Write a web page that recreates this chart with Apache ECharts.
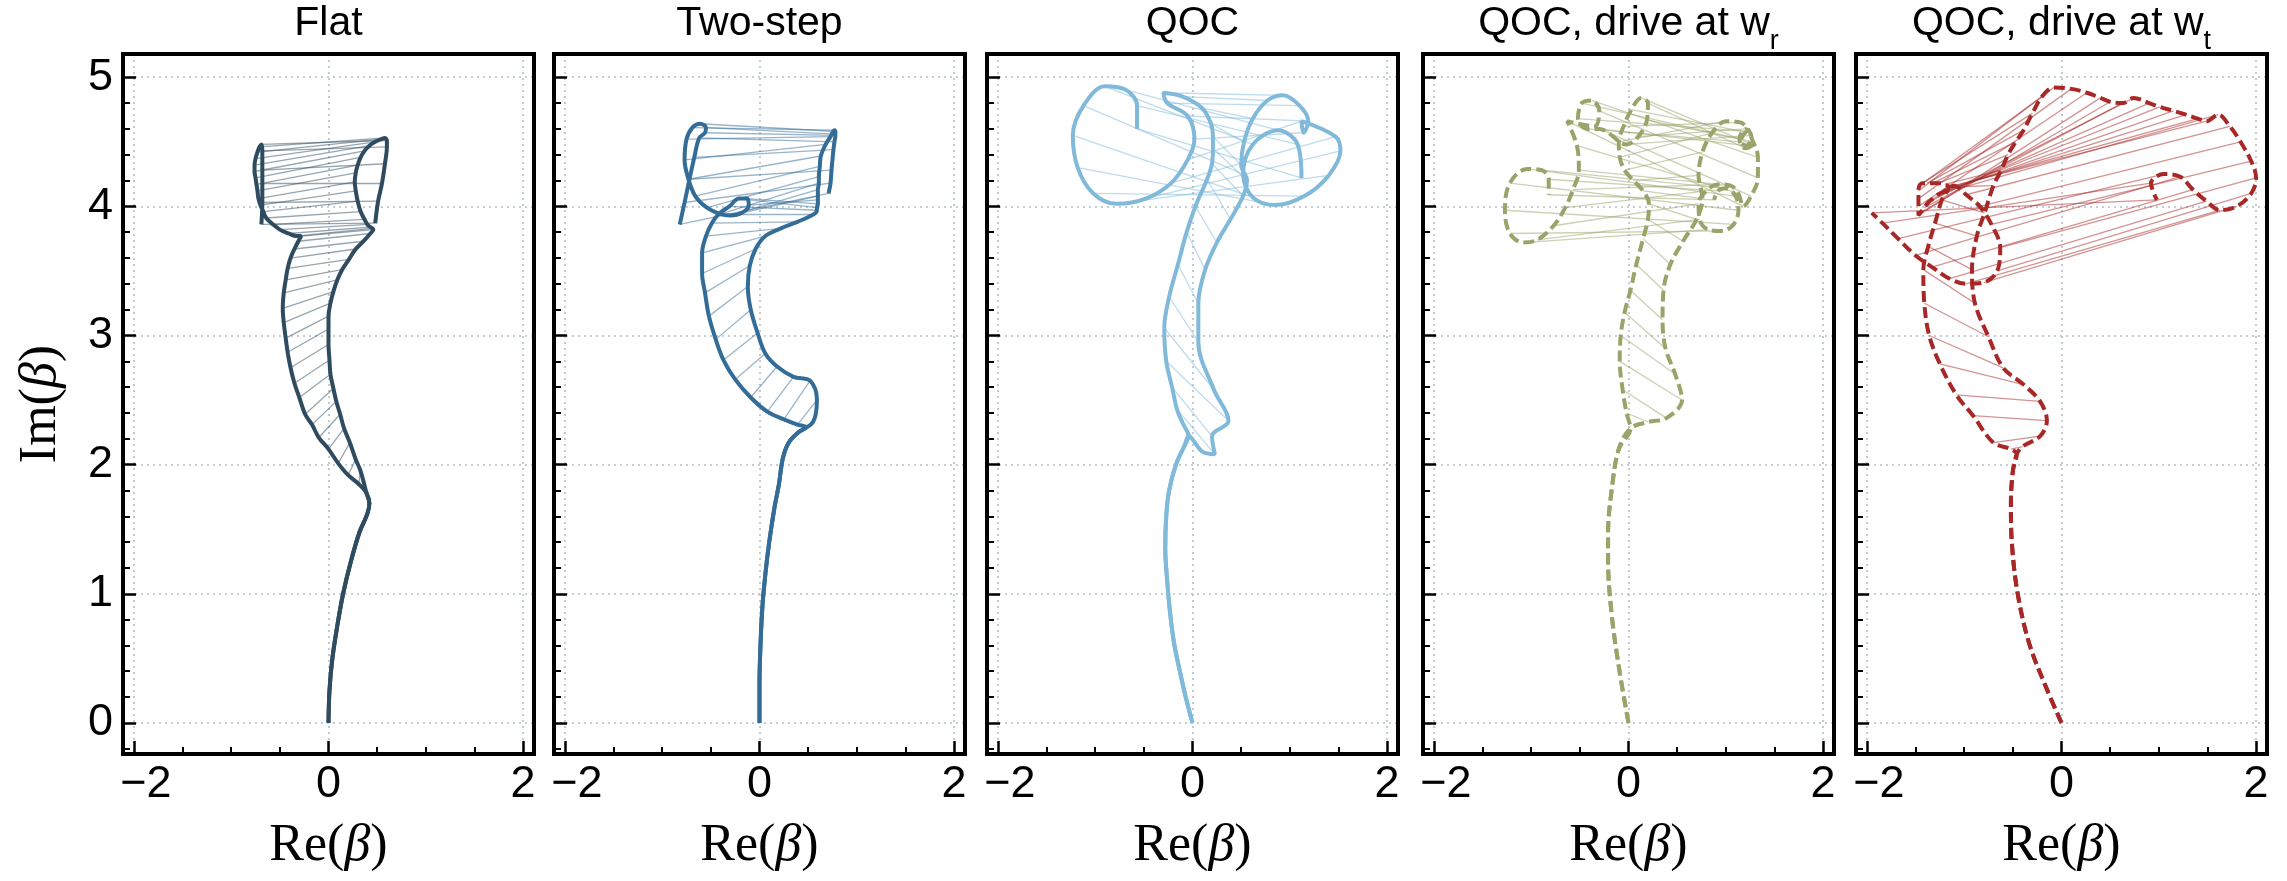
<!DOCTYPE html>
<html><head><meta charset="utf-8">
<script src="https://cdn.jsdelivr.net/npm/echarts@6/dist/echarts.min.js"></script>
<style>html,body{margin:0;padding:0;background:#fff}#c{width:2287px;height:881px}</style>
</head><body><div id="c"></div>
<script>
// ---- tick values / labels ----
const xTicks = [-2, 0, 2];
const xTickLabels = ['{m|\u22122}', '0', '2'];
const xMinorTicks = [-1.5, -1, -0.5, 0.5, 1, 1.5];
const yTicks = [0, 1, 2, 3, 4, 5];
const yTickLabels = ['0', '1', '2', '3', '4', '5'];
const yMinorTicks = [-0.2, 0.2, 0.4, 0.6, 0.8, 1.2, 1.4, 1.6, 1.8, 2.2, 2.4, 2.6, 2.8, 3.2, 3.4, 3.6, 3.8, 4.2, 4.4, 4.6, 4.8];
const titles = ['Flat', 'Two-step', 'QOC', 'QOC, drive at w{s|r}', 'QOC, drive at w{s|t}'];

// ---- Panel 1: Flat ----
const flatTrunk = [[0,0],[0.01,0.25],[0.04,0.5],[0.09,0.75],[0.15,1.0],[0.23,1.25],[0.32,1.48],[0.40,1.62],[0.42,1.70],[0.39,1.78]];
const flatL = [[0.31,1.85],[0.20,1.92],[0.10,2.01],[0.00,2.12],[-0.10,2.21],[-0.17,2.31],[-0.24,2.39],[-0.30,2.52],[-0.35,2.63],[-0.39,2.75],[-0.42,2.87],[-0.44,2.98],[-0.46,3.10],[-0.47,3.21],[-0.46,3.33],[-0.44,3.43],[-0.42,3.52],[-0.39,3.60],[-0.35,3.67],[-0.31,3.73],[-0.28,3.77],
 [-0.33,3.77],[-0.41,3.79],[-0.50,3.82],[-0.57,3.86],[-0.64,3.91],
 [-0.67,3.96],[-0.70,4.01],[-0.72,4.06],[-0.73,4.12],[-0.74,4.17],[-0.75,4.22],[-0.76,4.27],[-0.76,4.32],[-0.75,4.37],[-0.73,4.42],[-0.71,4.46],[-0.69,4.48],
 [-0.68,4.43],[-0.68,4.28],[-0.68,4.18],[-0.68,4.03],[-0.69,3.86]];
const flatR = [[0.33,1.95],[0.28,2.04],[0.22,2.17],[0.16,2.28],[0.12,2.39],[0.08,2.49],[0.05,2.59],[0.02,2.70],[0.01,2.81],[0.00,2.93],[0.00,3.05],[0.00,3.15],[0.02,3.25],[0.05,3.34],[0.09,3.43],[0.14,3.51],[0.21,3.59],[0.28,3.67],[0.36,3.73],[0.43,3.79],[0.46,3.82],
 [0.45,3.83],[0.43,3.84],[0.40,3.86],[0.37,3.90],[0.33,3.96],
 [0.30,4.04],[0.28,4.12],[0.27,4.19],[0.28,4.26],[0.30,4.32],[0.33,4.38],[0.37,4.43],[0.42,4.47],[0.48,4.50],[0.54,4.52],[0.58,4.53],[0.60,4.51],
 [0.60,4.46],[0.58,4.33],[0.55,4.18],[0.51,4.04],[0.48,3.87]];

// ---- Panel 2: Two-step ----
const twoTrunk = [[0,0],[0.0,0.3],[0.01,0.6],[0.03,0.9],[0.06,1.15],[0.10,1.4],[0.15,1.65],[0.20,1.85],[0.24,2.05],[0.30,2.17],[0.40,2.25]];
const twoL = [[0.48,2.29],[0.39,2.31],[0.25,2.35],[0.08,2.41],[-0.09,2.52],[-0.25,2.66],[-0.37,2.81],[-0.45,2.97],[-0.52,3.15],[-0.56,3.33],[-0.59,3.48],[-0.59,3.64],[-0.55,3.77],[-0.49,3.87],[-0.42,3.94],
 [-0.31,4.00],[-0.21,4.06],[-0.13,4.06],[-0.11,4.01],[-0.18,3.95],[-0.30,3.93],[-0.40,3.94],
 [-0.54,3.99],[-0.66,4.08],[-0.73,4.21],[-0.77,4.36],[-0.75,4.52],[-0.69,4.61],[-0.61,4.64],[-0.55,4.61],[-0.56,4.57],[-0.62,4.53],
 [-0.67,4.38],[-0.72,4.21],[-0.77,4.03],[-0.82,3.86]];
const twoR = [[0.55,2.33],[0.59,2.50],[0.52,2.65],[0.35,2.68],[0.18,2.76],[0.06,2.86],[-0.02,3.02],[-0.09,3.20],[-0.12,3.38],[-0.10,3.54],[-0.04,3.67],[0.06,3.77],[0.22,3.83],[0.39,3.88],[0.56,3.94],
 [0.59,3.97],[0.59,3.99],[0.60,4.02],[0.60,4.05],[0.60,4.08],[0.60,4.13],[0.61,4.18],
 [0.61,4.23],[0.62,4.31],[0.63,4.39],[0.68,4.48],[0.73,4.54],[0.77,4.59],[0.78,4.58],[0.78,4.56],[0.78,4.55],[0.77,4.50],
 [0.76,4.44],[0.74,4.28],[0.73,4.18],[0.71,4.10]];

// ---- Panel 3: QOC ----
const qocTrunk = [[0,0],[-0.07,0.2],[-0.13,0.4],[-0.19,0.62],[-0.23,0.85],[-0.26,1.1],[-0.28,1.35],[-0.27,1.6],[-0.24,1.8],[-0.17,2.0],[-0.08,2.15],[-0.04,2.22]];
const qocL = [[-0.10,2.32],[-0.16,2.43],[-0.21,2.60],[-0.27,2.80],[-0.29,3.06],[-0.24,3.30],[-0.15,3.55],[-0.06,3.80],[0.03,4.00],[0.15,4.21],[0.20,4.33],
 [0.21,4.45],[0.21,4.54],[0.19,4.64],[0.10,4.76],[-0.10,4.85],[-0.30,4.88],[-0.26,4.80],[-0.05,4.70],[0.02,4.52],[-0.05,4.36],[-0.22,4.18],[-0.48,4.06],[-0.78,4.02],[-1.02,4.10],[-1.18,4.30],[-1.23,4.55],[-1.12,4.78],[-0.90,4.93],[-0.68,4.90],[-0.57,4.78],[-0.57,4.60]];
const qocR = [[0.10,2.10],[0.23,2.08],[0.20,2.22],[0.37,2.34],[0.22,2.58],[0.06,2.95],[0.06,3.25],[0.13,3.51],[0.25,3.72],[0.39,3.90],[0.52,4.08],
 [0.56,4.20],[0.50,4.32],[0.53,4.50],[0.62,4.68],[0.77,4.82],[0.93,4.86],[1.10,4.78],[1.19,4.66],[1.14,4.57],[1.12,4.66],[1.47,4.54],[1.52,4.43],[1.40,4.24],[1.15,4.08],[0.85,4.01],[0.62,4.07],[0.52,4.25],[0.62,4.48],[0.88,4.59],[1.08,4.48],[1.12,4.22]];

// ---- Panel 4: QOC, drive at w_r ----
const wrTrunk = [[0,0],[-0.09,0.39],[-0.17,0.82],[-0.21,1.26],[-0.21,1.47],[-0.17,1.82],[-0.10,2.12],[0.02,2.28]];
const wrL = [[-0.02,2.40],[-0.06,2.58],[-0.09,2.80],[-0.08,3.00],[-0.04,3.18],[0.02,3.35],[0.08,3.55],[0.15,3.75],[0.20,3.90],[0.21,4.02],
 [0.15,4.12],[0.05,4.20],[-0.04,4.28],[-0.09,4.38],[-0.10,4.50],[-0.05,4.62],[0.03,4.75],[0.13,4.84],[0.20,4.80],[0.19,4.67],[0.10,4.54],[-0.02,4.48],
 [-0.30,4.60],[-0.42,4.60],[-0.52,4.68],[-0.48,4.80],[-0.38,4.82],[-0.30,4.74],[-0.35,4.62],[-0.63,4.66],
 [-0.53,4.47],[-0.51,4.28],[-0.57,4.13],[-0.65,3.99],[-0.77,3.85],[-0.94,3.74],[-1.08,3.72],[-1.22,3.79],[-1.27,3.97],[-1.22,4.18],[-1.04,4.29],[-0.89,4.28],[-0.82,4.21],[-0.82,4.09]];
const wrR = [[0.20,2.33],[0.39,2.36],[0.55,2.50],[0.48,2.70],[0.38,2.90],[0.35,3.12],[0.36,3.35],[0.43,3.55],[0.56,3.73],[0.70,3.90],
 [0.76,4.06],[0.72,4.24],[0.76,4.42],[0.86,4.57],[1.00,4.66],[1.15,4.65],[1.25,4.57],[1.27,4.48],[1.20,4.45],[1.14,4.52],
 [1.20,4.60],[1.26,4.55],[1.22,4.47],[1.15,4.50],[1.22,4.58],[1.28,4.50],[1.33,4.38],[1.33,4.22],[1.26,4.08],
 [1.18,4.00],[1.13,4.10],[1.05,4.16],[0.92,4.17],[0.80,4.12],[0.72,4.02],[0.73,3.90],[0.82,3.82],[0.96,3.81],[1.08,3.86],[1.13,3.97],[1.10,4.08],[1.00,4.14],[0.92,4.12],[0.88,4.05]];

// ---- Panel 5: QOC, drive at w_t ----
const wtTrunk = [[0,0],[-0.15,0.26],[-0.33,0.61],[-0.45,1.0],[-0.51,1.39],[-0.52,1.69],[-0.50,1.95],[-0.46,2.08]];
const wtL = [[-0.52,2.12],[-0.70,2.17],[-0.91,2.38],[-1.08,2.54],[-1.25,2.78],[-1.36,3.00],[-1.41,3.25],[-1.42,3.51],[-1.37,3.69],[-1.30,3.87],[-1.23,4.05],[-1.16,4.15],
 [-1.20,4.17],[-1.26,4.18],[-1.32,4.18],[-1.38,4.18],[-1.43,4.18],[-1.46,4.16],[-1.47,4.12],[-1.47,4.06],[-1.47,4.00],[-1.47,3.93],[-1.45,3.95],[-1.41,3.99],[-1.37,4.03],[-1.32,4.06],[-1.27,4.09],[-1.22,4.11],[-1.18,4.13],[-1.14,4.15],[-1.10,4.16],[-1.05,4.14],
 [-0.98,4.09],[-0.84,4.00],[-0.72,3.86],[-0.63,3.68],[-0.66,3.50],[-0.80,3.41],[-0.98,3.40],[-1.15,3.44],[-1.33,3.53],[-1.50,3.62],[-1.68,3.75],[-1.84,3.87],[-1.95,3.95]];
const wtR = [[-0.40,2.14],[-0.22,2.22],[-0.15,2.34],[-0.22,2.49],[-0.39,2.62],[-0.60,2.75],[-0.75,2.99],[-0.89,3.25],[-0.92,3.51],[-0.87,3.77],[-0.79,3.95],[-0.70,4.16],
 [-0.62,4.28],[-0.55,4.40],[-0.47,4.50],[-0.39,4.59],[-0.30,4.72],[-0.20,4.85],[-0.08,4.92],[0.10,4.91],[0.26,4.88],[0.40,4.84],[0.50,4.81],[0.63,4.80],[0.74,4.84],[0.90,4.80],[1.01,4.77],[1.15,4.74],[1.28,4.71],[1.40,4.68],[1.49,4.66],[1.61,4.71],
 [1.73,4.62],[1.84,4.50],[1.95,4.35],[2.00,4.22],[1.95,4.10],[1.80,4.00],[1.63,3.97],[1.49,4.04],[1.35,4.13],[1.22,4.23],[1.05,4.25],[0.92,4.18],[0.98,4.05]];

// ---- layout / style ----
const panels = [
  {trunk: flatTrunk, L: flatL, R: flatR, color: '#2f4b5f', dash: 'solid'},
  {trunk: twoTrunk, L: twoL, R: twoR, color: '#336c97', dash: 'solid'},
  {trunk: qocTrunk, L: qocL, R: qocR, color: '#80b9da', dash: 'solid'},
  {trunk: wrTrunk, L: wrL, R: wrR, color: '#9aa46a', dash: [11, 5]},
  {trunk: wtTrunk, L: wtL, R: wtR, color: '#a82828', dash: [11, 5]}
];
const lefts = [123, 554, 987, 1423, 1856];
const W = 411, TOP = 54, H = 700;
const XMIN = -2.112, XMAX = 2.112, YMIN = -0.241, YMAX = 5.18;
const SANS = 'Liberation Sans, Arial, Helvetica, sans-serif';
const SERIF = 'Liberation Serif, DejaVu Serif, serif';
const gridLine = {show: true, lineStyle: {color: '#b3bdc8', width: 1.6, type: [2, 4]}};

function lab(vals, labels) {
  return function (v) {
    for (let k = 0; k < vals.length; k++) if (Math.abs(vals[k] - v) < 1e-6) return labels[k];
    return '';
  };
}

const grid = [], xAxis = [], yAxis = [], series = [], title = [];
panels.forEach((p, i) => {
  grid.push({left: lefts[i], top: TOP, width: W, height: H, show: true, borderColor: '#000', borderWidth: 4, backgroundColor: 'transparent', z: 5});
  title.push({
    text: titles[i], left: lefts[i] + W / 2, top: 0, textAlign: 'center', padding: 0,
    textStyle: {fontSize: 41, fontWeight: 'normal', color: '#000', fontFamily: SANS, lineHeight: 48,
      rich: {s: {fontSize: 27, fontFamily: SANS, color: '#000', verticalAlign: 'bottom', lineHeight: 32, padding: [0, 0, -7, 0]}}}
  });
});
const nameStyle = {fontSize: 52, fontFamily: SERIF, color: '#000',
  rich: {b: {fontSize: 52, fontFamily: SERIF, fontStyle: 'italic', color: '#000'}}};
// main axes
panels.forEach((p, i) => {
  xAxis.push({
    type: 'value', gridIndex: i, min: XMIN, max: XMAX, position: 'bottom',
    axisLine: {show: false, onZero: false},
    axisTick: {show: true, inside: true, length: 13, customValues: xTicks, lineStyle: {color: '#000', width: 2.5}},
    axisLabel: {show: true, customValues: xTicks, formatter: lab(xTicks, xTickLabels), fontSize: 45, color: '#000', fontFamily: SANS, margin: 8,
      rich: {m: {fontSize: 45, color: '#000', fontFamily: SANS, padding: [0, 0, 0, 24]}}},
    splitLine: gridLine,
    name: 'Re({b|\u03b2})', nameLocation: 'middle', nameGap: 66,
    nameTextStyle: nameStyle
  });
  yAxis.push({
    type: 'value', gridIndex: i, min: YMIN, max: YMAX, position: 'left',
    axisLine: {show: false, onZero: false},
    axisTick: {show: true, inside: true, length: 13, customValues: yTicks, lineStyle: {color: '#000', width: 2.5}},
    axisLabel: {show: i === 0, customValues: yTicks, formatter: lab(yTicks, yTickLabels), fontSize: 45, color: '#000', fontFamily: SANS, margin: 10},
    splitLine: gridLine,
    name: i === 0 ? 'Im({b|\u03b2})' : '', nameLocation: 'middle', nameGap: 56,
    nameTextStyle: nameStyle
  });
});
// minor-tick axes
panels.forEach((p, i) => {
  xAxis.push({
    type: 'value', gridIndex: i, min: XMIN, max: XMAX, position: 'bottom',
    axisLine: {show: false, onZero: false}, axisLabel: {show: false}, splitLine: {show: false},
    axisTick: {show: true, inside: true, length: 7, customValues: xMinorTicks, lineStyle: {color: '#000', width: 2}}
  });
  yAxis.push({
    type: 'value', gridIndex: i, min: YMIN, max: YMAX, position: 'left',
    axisLine: {show: false, onZero: false}, axisLabel: {show: false}, splitLine: {show: false},
    axisTick: {show: true, inside: true, length: 7, customValues: yMinorTicks, lineStyle: {color: '#000', width: 2}}
  });
});
// series
panels.forEach((p, i) => {
  const links = p.L.map((a, k) => ({coords: [a, p.R[k]]}));
  series.push({
    type: 'lines', coordinateSystem: 'cartesian2d', xAxisIndex: i, yAxisIndex: i, silent: true, z: 2,
    lineStyle: {color: p.color, width: 1.3, opacity: 0.5, curveness: 0},
    data: links
  });
  [p.L, p.R].forEach(arr => {
    series.push({
      type: 'line', xAxisIndex: i, yAxisIndex: i, showSymbol: false, symbol: 'none', smooth: 0.35, silent: true, z: 3,
      lineStyle: {color: p.color, width: 4, type: p.dash, cap: 'butt'},
      data: p.trunk.concat(arr)
    });
  });
});

const chart = echarts.init(document.getElementById('c'), null, {renderer: 'canvas'});
chart.setOption({animation: false, backgroundColor: '#fff', title, grid, xAxis, yAxis, series});
</script>
</body></html>
